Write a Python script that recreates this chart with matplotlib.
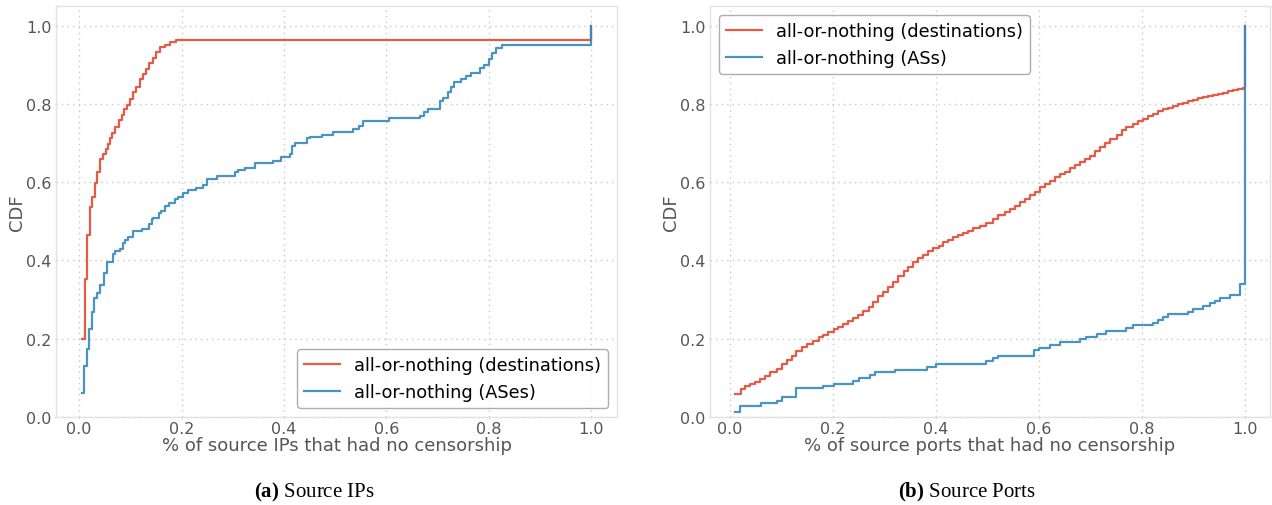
import matplotlib
matplotlib.use("Agg")
import matplotlib.pyplot as plt

# ---- Source IPs: CDF step breakpoints ----
ips_dest_x = [0.005, 0.012, 0.015, 0.021, 0.026, 0.031, 0.036, 0.041, 0.047, 0.052,
              0.056, 0.060, 0.065, 0.070, 0.077, 0.083, 0.088, 0.093, 0.099, 0.105,
              0.111, 0.118, 0.124, 0.131, 0.137, 0.144, 0.150, 0.158, 0.168, 0.177,
              0.190, 0.210, 1.000]
ips_dest_y = [0.200, 0.353, 0.464, 0.537, 0.563, 0.597, 0.626, 0.659, 0.672, 0.685,
              0.697, 0.712, 0.726, 0.740, 0.759, 0.772, 0.787, 0.796, 0.813, 0.830,
              0.843, 0.864, 0.877, 0.890, 0.904, 0.917, 0.932, 0.944, 0.951, 0.958,
              0.962, 0.964, 1.000]

ips_as_x = [0.005, 0.010, 0.015, 0.020, 0.025, 0.029, 0.035, 0.040, 0.049, 0.054,
            0.066, 0.070, 0.079, 0.085, 0.090, 0.096, 0.105, 0.122, 0.137, 0.142,
            0.145, 0.156, 0.160, 0.168, 0.176, 0.187, 0.194, 0.202, 0.213, 0.229,
            0.241, 0.250, 0.270, 0.304, 0.311, 0.324, 0.343, 0.379, 0.395, 0.411,
            0.415, 0.421, 0.444, 0.450, 0.475, 0.496, 0.535, 0.546, 0.554, 0.605,
            0.665, 0.674, 0.681, 0.705, 0.711, 0.720, 0.726, 0.731, 0.746, 0.756,
            0.765, 0.782, 0.791, 0.801, 0.806, 0.814, 0.826, 1.000]
ips_as_y = [0.061, 0.131, 0.174, 0.225, 0.267, 0.304, 0.317, 0.338, 0.368, 0.396,
            0.417, 0.424, 0.430, 0.445, 0.451, 0.460, 0.475, 0.481, 0.492, 0.505,
            0.509, 0.522, 0.526, 0.538, 0.546, 0.558, 0.563, 0.571, 0.579, 0.586,
            0.592, 0.608, 0.616, 0.626, 0.631, 0.636, 0.650, 0.655, 0.665, 0.672,
            0.692, 0.700, 0.712, 0.716, 0.721, 0.729, 0.736, 0.744, 0.757, 0.764,
            0.770, 0.779, 0.787, 0.808, 0.815, 0.830, 0.843, 0.857, 0.864, 0.871,
            0.879, 0.891, 0.900, 0.915, 0.930, 0.943, 0.950, 1.000]

# ---- Source ports: CDF step breakpoints ----
ports_dest_x = [0.010, 0.021, 0.029, 0.039, 0.049, 0.058, 0.068, 0.078, 0.091, 0.100,
                0.110, 0.120, 0.129, 0.139, 0.149, 0.162, 0.172, 0.181, 0.191, 0.201,
                0.210, 0.220, 0.230, 0.239, 0.249, 0.259, 0.269, 0.278, 0.288, 0.298,
                0.307, 0.317, 0.327, 0.337, 0.346, 0.356, 0.366, 0.375, 0.385, 0.395,
                0.405, 0.414, 0.424, 0.434, 0.443, 0.453, 0.463, 0.472, 0.485, 0.498,
                0.511, 0.521, 0.534, 0.544, 0.553, 0.563, 0.573, 0.583, 0.592, 0.602,
                0.612, 0.621, 0.631, 0.641, 0.650, 0.660, 0.670, 0.680, 0.689, 0.699,
                0.709, 0.718, 0.728, 0.738, 0.751, 0.761, 0.770, 0.783, 0.793, 0.802,
                0.812, 0.822, 0.831, 0.841, 0.851, 0.860, 0.870, 0.880, 0.889, 0.899,
                0.909, 0.918, 0.928, 0.938, 0.948, 0.957, 0.967, 0.977, 0.987, 0.996,
                1.000]
ports_dest_y = [0.058, 0.072, 0.078, 0.084, 0.090, 0.097, 0.105, 0.114, 0.123, 0.135,
                0.146, 0.157, 0.169, 0.178, 0.187, 0.195, 0.204, 0.210, 0.218, 0.224,
                0.231, 0.238, 0.244, 0.252, 0.261, 0.271, 0.282, 0.295, 0.308, 0.320,
                0.333, 0.346, 0.359, 0.372, 0.384, 0.396, 0.406, 0.414, 0.423, 0.431,
                0.438, 0.446, 0.453, 0.459, 0.465, 0.470, 0.476, 0.483, 0.489, 0.496,
                0.505, 0.517, 0.524, 0.532, 0.540, 0.549, 0.558, 0.566, 0.576, 0.587,
                0.596, 0.604, 0.613, 0.621, 0.627, 0.636, 0.643, 0.651, 0.660, 0.668,
                0.679, 0.690, 0.700, 0.711, 0.721, 0.732, 0.741, 0.749, 0.755, 0.762,
                0.769, 0.775, 0.781, 0.786, 0.790, 0.795, 0.799, 0.803, 0.807, 0.811,
                0.814, 0.817, 0.820, 0.823, 0.826, 0.829, 0.832, 0.836, 0.839, 0.841,
                1.000]

ports_as_x = [0.010, 0.019, 0.061, 0.091, 0.100, 0.129, 0.181, 0.201, 0.239, 0.251,
              0.272, 0.282, 0.321, 0.382, 0.401, 0.498, 0.510, 0.521, 0.590, 0.601,
              0.621, 0.641, 0.680, 0.691, 0.712, 0.731, 0.770, 0.782, 0.821, 0.832,
              0.841, 0.851, 0.890, 0.900, 0.919, 0.932, 0.942, 0.951, 0.971, 0.990,
              1.000]
ports_as_y = [0.012, 0.029, 0.035, 0.042, 0.050, 0.073, 0.080, 0.084, 0.093, 0.100,
              0.107, 0.114, 0.121, 0.127, 0.136, 0.142, 0.150, 0.155, 0.170, 0.176,
              0.184, 0.191, 0.198, 0.205, 0.212, 0.219, 0.227, 0.234, 0.240, 0.248,
              0.255, 0.262, 0.269, 0.276, 0.283, 0.290, 0.297, 0.304, 0.312, 0.340,
              1.000]

ticks = [0.0, 0.2, 0.4, 0.6, 0.8, 1.0]
tick_labels = ["0.0", "0.2", "0.4", "0.6", "0.8", "1.0"]

RED = "#E24A33"
BLUE = "#348ABD"
TXT = "#555555"

plt.rcParams["font.family"] = ["DejaVu Sans"]
plt.rcParams["mathtext.fontset"] = "custom"
plt.rcParams["mathtext.rm"] = "Liberation Serif"
plt.rcParams["mathtext.bf"] = "Liberation Serif:bold"

fig = plt.figure(figsize=(12.72, 5.06), dpi=100)
W, H = 1272, 506
ax1 = fig.add_axes([56 / W, (H - 418) / H, (617 - 56) / W, (418 - 7) / H])
ax2 = fig.add_axes([710 / W, (H - 418) / H, (1270 - 710) / W, (418 - 7) / H])


def style(ax, xlim, xlabel):
    ax.set_xlim(*xlim)
    ax.set_ylim(0, 1.05)
    ax.set_xticks(ticks)
    ax.set_xticklabels(tick_labels)
    ax.set_yticks(ticks)
    ax.set_yticklabels(tick_labels)
    ax.grid(True, linestyle=(0, (1, 3)), color="#c8c8c8", linewidth=1.0)
    ax.set_axisbelow(True)
    for s in ax.spines.values():
        s.set_color("#e2e2e2")
        s.set_linewidth(1.0)
    ax.tick_params(axis="both", labelsize=11.5, labelcolor=TXT, color="#e2e2e2",
                   length=1.5, pad=1.5)
    ax.set_xlabel(xlabel, fontsize=13, color=TXT, labelpad=0)
    ax.set_ylabel("CDF", fontsize=13, color=TXT, labelpad=0)


ax1.step(ips_dest_x, ips_dest_y, where="post", color=RED, lw=1.6, alpha=0.9,
         label="all-or-nothing (destinations)")
ax1.step(ips_as_x, ips_as_y, where="post", color=BLUE, lw=1.6, alpha=0.9,
         label="all-or-nothing (ASes)")
style(ax1, (-0.045, 1.05), "% of source IPs that had no censorship")
leg1 = ax1.legend(loc="lower right", fontsize=12.8, frameon=True, fancybox=True,
                  borderaxespad=0.5)
leg1.get_frame().set_edgecolor("#999999")

ax2.step(ports_dest_x, ports_dest_y, where="post", color=RED, lw=1.6, alpha=0.9,
         label="all-or-nothing (destinations)")
ax2.step(ports_as_x, ports_as_y, where="post", color=BLUE, lw=1.6, alpha=0.9,
         label="all-or-nothing (ASs)")
style(ax2, (-0.039, 1.049), "% of source ports that had no censorship")
leg2 = ax2.legend(loc="upper left", fontsize=12.8, frameon=True, fancybox=True,
                  borderaxespad=0.5)
leg2.get_frame().set_edgecolor("#999999")

fig.text(314 / W, 1 - 492 / H, r"$\bf{(a)}$ Source IPs", ha="center", va="center",
         fontsize=15, family="Liberation Serif", color="black")
fig.text(967 / W, 1 - 492 / H, r"$\bf{(b)}$ Source Ports", ha="center", va="center",
         fontsize=15, family="Liberation Serif", color="black")

fig.savefig("out.png", dpi=100)
